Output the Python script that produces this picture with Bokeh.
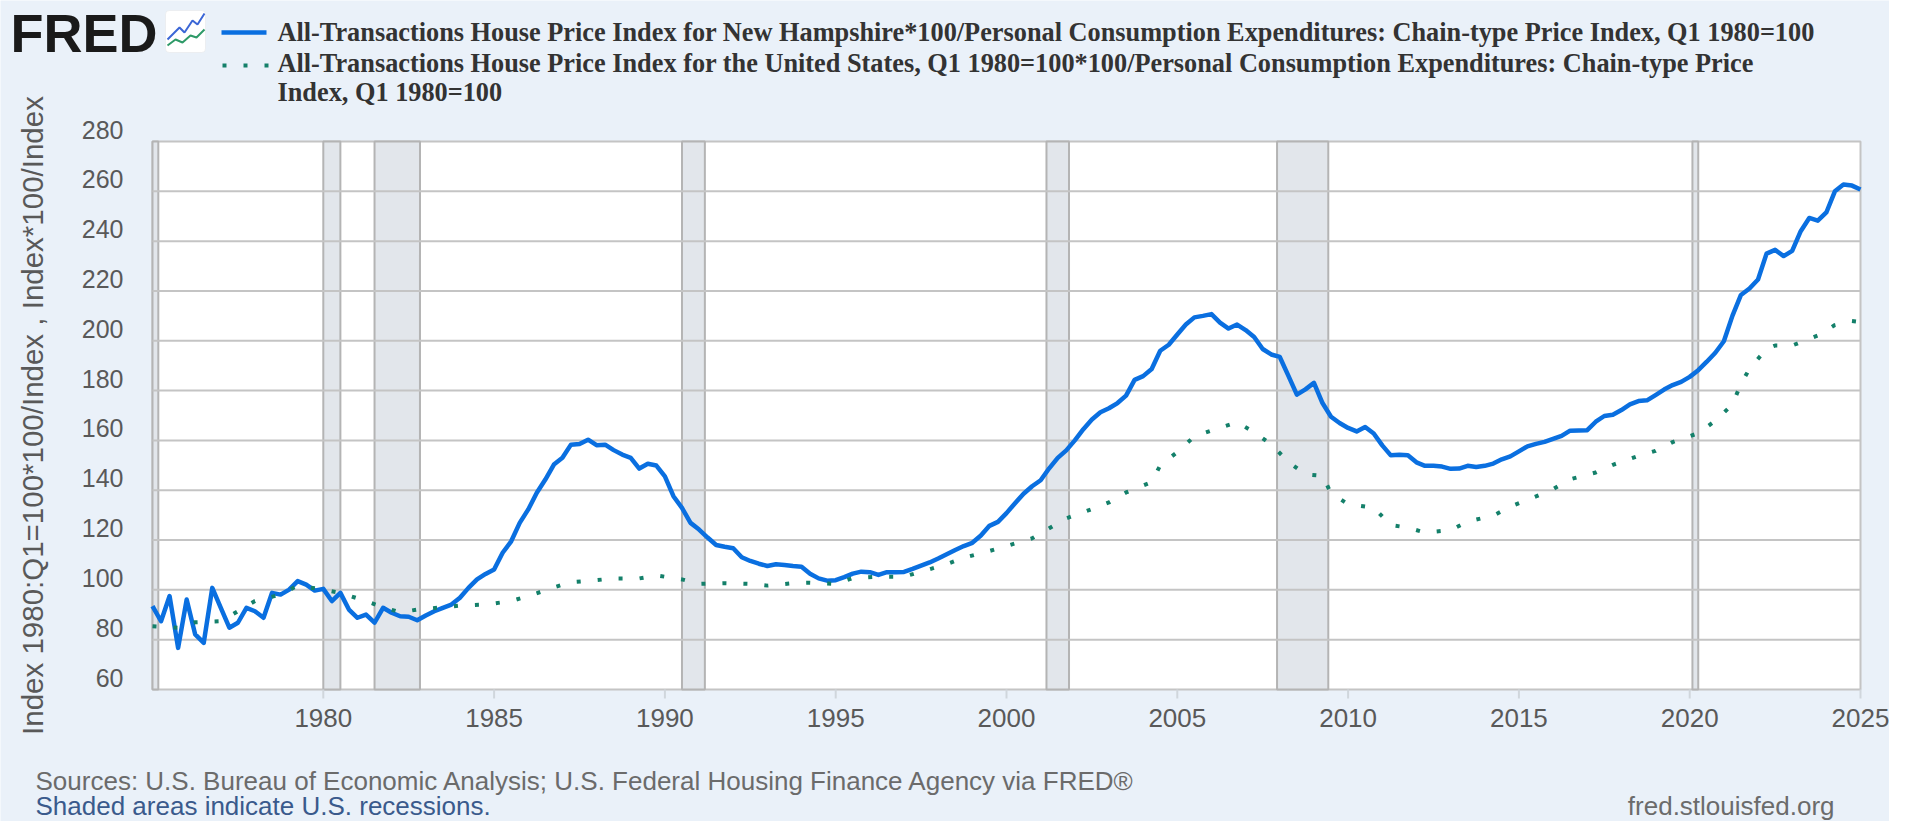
from math import pi

from bokeh.core.properties import value
from bokeh.embed import file_html
from bokeh.models import BoxAnnotation, Label, Range1d
from bokeh.plotting import figure
from bokeh.resources import INLINE

# New Hampshire HPI / PCE price index, quarterly from 1975 Q1
nh_values = [
    93.5, 87.4, 97.5, 76.7,
    96.1, 82.1, 78.7, 100.8,
    92.8, 84.8, 86.8, 92.8,
    91.4, 88.8, 98.8, 98.1,
    100.1, 103.5, 102.1, 99.7,
    100.4, 95.5, 98.8, 92.1,
    88.8, 90.1, 86.8, 92.8,
    90.8, 89.4, 89.2, 87.8,
    89.7, 91.4, 92.8, 94.1,
    96.8, 100.8, 104.2, 106.4,
    108.2, 114.9, 119.5, 126.9,
    132.3, 139.0, 144.3, 150.3,
    153.0, 158.3, 158.6, 160.3,
    158.1, 158.3, 156.1, 154.3,
    153.0, 148.7, 150.6, 149.9,
    145.6, 137.6, 132.9, 126.9,
    124.2, 121.0, 118.0, 117.3,
    116.7, 113.1, 111.6, 110.5,
    109.6, 110.3, 110.0, 109.6,
    109.3, 106.5, 104.6, 103.7,
    103.9, 105.1, 106.5, 107.3,
    107.1, 106.0, 107.1, 107.1,
    107.2, 108.4, 109.7, 111.0,
    112.6, 114.3, 116.0, 117.6,
    118.9, 121.8, 125.7, 127.3,
    130.8, 134.8, 138.6, 141.6,
    144.0, 148.8, 153.0, 156.0,
    160.0, 164.5, 168.4, 171.3,
    172.9, 175.0, 178.0, 184.3,
    185.8, 188.7, 196.0, 198.4,
    202.5, 206.5, 209.4, 210.0,
    210.7, 207.3, 204.9, 206.5,
    204.3, 201.5, 196.7, 194.5,
    193.5, 186.0, 178.4, 180.5,
    183.1, 175.0, 169.5, 167.0,
    165.0, 163.6, 165.4, 162.8,
    158.0, 154.0, 154.2, 154.0,
    151.2, 149.8, 149.8, 149.5,
    148.6, 148.7, 149.8, 149.3,
    149.8, 150.7, 152.4, 153.6,
    155.6, 157.6, 158.6, 159.4,
    160.6, 161.8, 163.9, 164.0,
    164.1, 167.5, 169.8, 170.3,
    172.2, 174.5, 175.8, 176.1,
    178.2, 180.4, 182.2, 183.5,
    185.5, 188.2, 191.6, 195.2,
    199.8, 210.0, 218.4, 221.0,
    224.6, 235.0, 236.5, 234.0,
    236.1, 244.0, 249.3, 248.2,
    251.5, 260.0, 262.7, 262.3,
    260.7,
]
nh_dates = [1975 + q / 4 for q in range(len(nh_values))]

# United States HPI / PCE price index (readings at the quarters below)
us_dates = [
    1975.0, 1975.75, 1976.25, 1977.0, 1977.5, 1978.0, 1978.75, 1979.25,
    1980.0, 1980.5, 1981.25, 1981.75, 1982.25, 1982.75, 1983.5, 1984.0,
    1984.75, 1985.5, 1986.0, 1986.75, 1987.25, 1988.0, 1988.5, 1989.25,
    1989.75, 1990.5, 1991.0, 1991.75, 1992.5, 1993.0, 1993.75, 1994.25,
    1995.0, 1995.5, 1996.25, 1997.0, 1997.5, 1998.25, 1998.75, 1999.5,
    2000.0, 2000.75, 2001.25, 2001.75, 2002.5, 2003.0, 2003.5, 2004.25,
    2004.5, 2005.0, 2005.5, 2006.25, 2006.75, 2007.25, 2007.75, 2008.25,
    2008.75, 2009.25, 2009.5, 2010.0, 2010.75, 2011.25, 2011.75, 2012.25,
    2013.0, 2013.5, 2014.25, 2014.75, 2015.5, 2016.0, 2016.5, 2017.25,
    2017.75, 2018.5, 2019.0, 2019.5, 2020.25, 2020.75, 2021.25, 2021.5,
    2021.75, 2022.25, 2022.5, 2023.0, 2023.75, 2024.25, 2024.75, 2025.0,
]
us_values = [
    85.4, 84.8, 87.0, 87.4, 91.4, 95.5, 98.1, 101.7,
    100.1, 98.8, 95.5, 93.0, 91.0, 92.1, 93.0, 93.7,
    94.1, 95.5, 97.5, 101.0, 103.1, 103.9, 104.6, 104.6,
    105.8, 104.2, 102.4, 102.7, 102.4, 101.7, 102.7, 102.9,
    102.4, 104.7, 105.3, 105.3, 107.3, 110.3, 112.9, 115.6,
    117.6, 120.7, 124.7, 128.7, 132.4, 135.1, 139.1, 143.3,
    150.0, 155.3, 161.6, 165.1, 167.3, 163.3, 158.4, 151.4,
    146.4, 145.8, 138.8, 134.4, 133.0, 126.0, 125.0, 123.0,
    124.0, 127.4, 129.8, 133.4, 137.5, 140.4, 144.4, 147.1,
    150.2, 153.8, 155.8, 159.3, 162.9, 167.9, 174.4, 182.7,
    188.7, 196.8, 198.1, 198.1, 202.1, 206.3, 207.9, 207.5,
]

# NBER recessions (peak month to trough month, as decimal years)
recession_start = [1973.83, 1980.0, 1981.5, 1990.5, 2001.17, 2007.92, 2020.08]
recession_end = [1975.17, 1980.5, 1982.83, 1991.17, 2001.83, 2009.42, 2020.25]

year_ticks = [1980, 1985, 1990, 1995, 2000, 2005, 2010, 2015, 2020, 2025]
value_ticks = [60, 80, 100, 120, 140, 160, 180, 200, 220, 240, 260, 280]

nh_label = ("All-Transactions House Price Index for New Hampshire*100/Personal "
            "Consumption Expenditures: Chain-type Price Index, Q1 1980=100")
us_label_1 = ("All-Transactions House Price Index for the United States, Q1 1980=100*100/"
              "Personal Consumption Expenditures: Chain-type Price")
us_label_2 = "Index, Q1 1980=100"
y_title = "Index 1980:Q1=100*100/Index , Index*100/Index"
source_text = ("Sources: U.S. Bureau of Economic Analysis; U.S. Federal Housing "
               "Finance Agency via FRED\u00ae")
shade_text = "Shaded areas indicate U.S. recessions."
site_text = "fred.stlouisfed.org"

BG = "#eaf1f9"
BLUE = "#0a6fe0"
GREEN = "#14806a"
GRID = "#c4c4c4"
TEXT = "#595959"
SANS = "Liberation Sans"

W, H = 1889, 821
FL, FR, FT, FB = 152, 1860, 141, 689   # plotting area edges, canvas px
X0, X1 = 1975.0, 2025.0
Y0, Y1 = value_ticks[0], value_ticks[-1]
px_per_year = (FR - FL) / (X1 - X0)
px_per_unit = (FB - FT) / (Y1 - Y0)

# The frame covers the whole canvas (page decoration in pixel units, y down);
# the chart itself lives on extra ranges that put 1975..2025 x 60..280 in place.
p = figure(
    width=W,
    height=H,
    x_range=Range1d(0, W),
    y_range=Range1d(H, 0),
    x_axis_type=None,
    y_axis_type=None,
    min_border=0,
    toolbar_location=None,
    output_backend="svg",
    background_fill_color=BG,
    border_fill_color=BG,
)
p.outline_line_color = None
p.grid.visible = False
p.extra_x_ranges = {"yr": Range1d(X0 - FL / px_per_year, X1 + (W - FR) / px_per_year)}
p.extra_y_ranges = {"val": Range1d(Y0 - (H - FB) / px_per_unit, Y1 + FT / px_per_unit)}
data_kw = dict(x_range_name="yr", y_range_name="val")

# plotting area, recessions, grid
p.quad(left=[X0], right=[X1], bottom=[Y0], top=[Y1], fill_color="white",
       line_color=GRID, line_width=2, **data_kw)
p.quad(left=[max(s, X0) for s in recession_start], right=recession_end,
       bottom=Y0, top=Y1, fill_color="#e2e6eb", line_color="#b4b4b4",
       line_width=2, **data_kw)
grid_vals = value_ticks[1:-1]
p.segment(x0=X0, x1=X1, y0=grid_vals, y1=grid_vals, line_color=GRID,
          line_width=2, **data_kw)

# x axis ticks and labels
tick_len = 9 / px_per_unit
p.segment(x0=year_ticks, x1=year_ticks, y0=Y0, y1=Y0 - tick_len,
          line_color="#d0d6dc", line_width=2, **data_kw)
p.text(x=year_ticks, y=Y0, text=[str(t) for t in year_ticks], y_offset=28,
       text_align="center", text_baseline="middle", text_font=value(SANS),
       text_font_size="26px", text_color=TEXT, **data_kw)

# y labels sit ~12px above their grid lines, as in FRED
p.text(x=X0, y=value_ticks, text=[str(v) for v in value_ticks], x_offset=-29,
       y_offset=-12, text_align="right", text_baseline="middle",
       text_font=value(SANS), text_font_size="25px", text_color=TEXT, **data_kw)
p.text(x=X0, y=(Y0 + Y1) / 2, text=[y_title], x_offset=-120, angle=pi / 2,
       text_align="center", text_baseline="middle", text_font=value(SANS),
       text_font_size="29.5px", text_color=TEXT, **data_kw)

# series
p.line(nh_dates, nh_values, line_color=BLUE, line_width=4.5, line_join="round",
       **data_kw)
p.line(us_dates, us_values, line_color=GREEN, line_width=4, line_dash="4 17",
       **data_kw)

# header: FRED mark, chart icon, legend (pixel units, text centred vertically)
p.add_layout(Label(x=10, y=32, text="FRED", text_font=SANS, text_font_style="bold",
                   text_font_size="54px", text_color="#1a1a1a",
                   text_baseline="middle"))
p.add_layout(BoxAnnotation(left=165, right=205, top=10, bottom=52, fill_color="white",
                           fill_alpha=1, line_color="#d8d8d8", line_width=1,
                           border_radius=4, level="underlay"))
p.line([167, 179, 184, 192, 197, 204], [39, 27, 32, 20, 24, 13],
       line_color="#3b66d6", line_width=2)
p.line([167, 175, 182, 190, 196, 204], [45, 39, 42, 35, 37, 29],
       line_color="#2e9a68", line_width=2)
p.line([221, 266], [32, 32], line_color=BLUE, line_width=4.5)
p.line([222, 270], [65, 65], line_color=GREEN, line_width=4, line_dash="4 17")
for txt, mid in ((nh_label, 32), (us_label_1, 63), (us_label_2, 92)):
    p.add_layout(Label(x=277, y=mid, text=txt, text_font="Liberation Serif",
                       text_font_style="bold", text_font_size="26.3px",
                       text_color="#333333", text_baseline="middle"))

# footer (kept a few px clear of the bottom edge)
p.add_layout(Label(x=35, y=780, text=source_text, text_font=SANS, text_font_size="26px",
                   text_color="#6b6b6b", text_baseline="middle"))
p.add_layout(Label(x=35, y=805, text=shade_text, text_font=SANS, text_font_size="26px",
                   text_color="#3a5a8c", text_baseline="middle"))
p.add_layout(Label(x=1834, y=805, text=site_text, text_font=SANS, text_font_size="26px",
                   text_color="#6b6b6b", text_align="right", text_baseline="middle"))

open("out.html", "w").write(file_html(p, INLINE))
